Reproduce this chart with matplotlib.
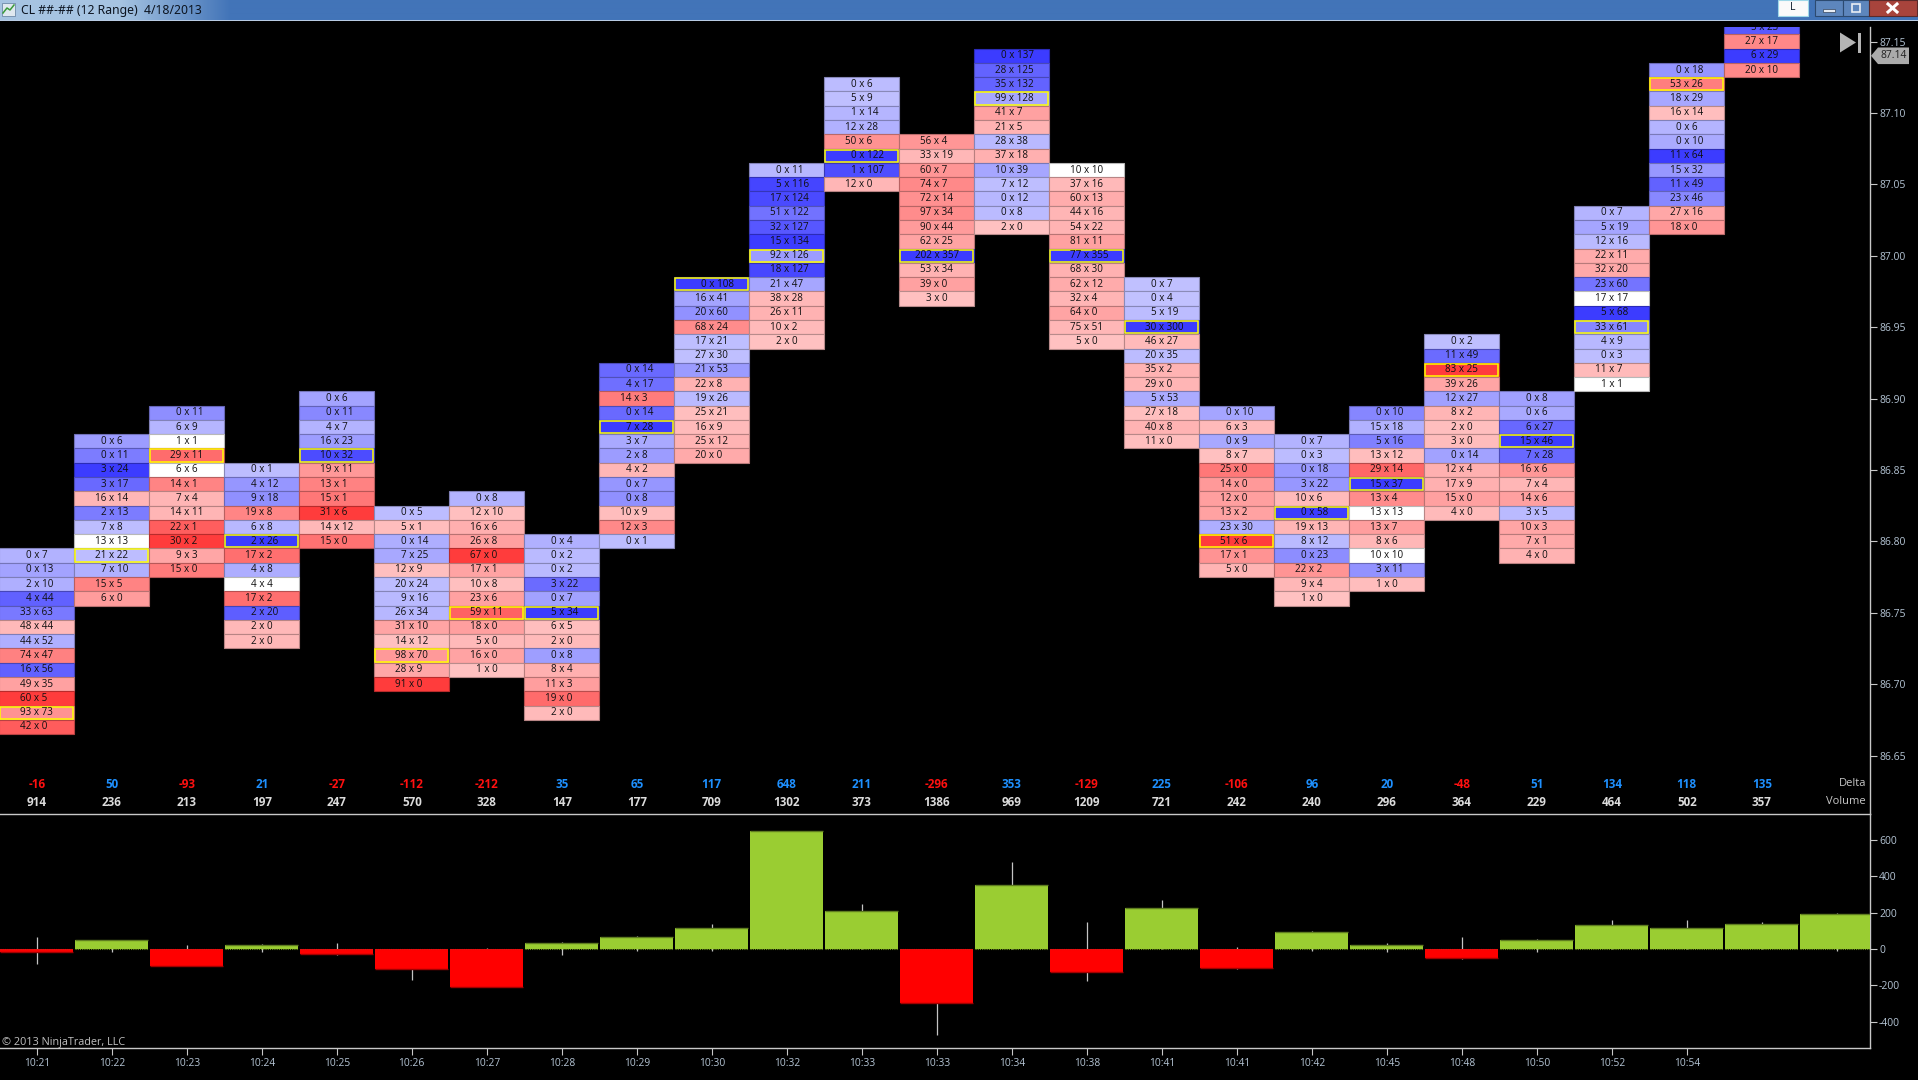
import numpy as np
import matplotlib
matplotlib.use("Agg")
import matplotlib.pyplot as plt
from matplotlib.patches import Rectangle, Polygon
from matplotlib.transforms import blended_transform_factory

W, H = 1918, 1080
FONT = "Open Sans"
plt.rcParams["font.family"] = [FONT, "DejaVu Sans"]

# ---- data -------------------------------------------------------------
times = ["10:21", "10:22", "10:23", "10:24", "10:25", "10:26", "10:27", "10:28",
         "10:29", "10:30", "10:32", "10:33", "10:33", "10:34", "10:38", "10:41",
         "10:41", "10:42", "10:45", "10:48", "10:50", "10:52", "10:54", ""]
top_price = [86.79, 86.87, 86.89, 86.85, 86.90, 86.82, 86.83, 86.80, 86.92, 86.98,
             87.06, 87.12, 87.08, 87.14, 87.06, 86.98, 86.89, 86.87, 86.89, 86.94,
             86.90, 87.03, 87.13, 87.16]
bid_ask = [
    ["0x7", "0x13", "2x10", "4x44", "33x63", "48x44", "44x52", "74x47", "16x56", "49x35", "60x5", "93x73", "42x0"],
    ["0x6", "0x11", "3x24", "3x17", "16x14", "2x13", "7x8", "13x13", "21x22", "7x10", "15x5", "6x0"],
    ["0x11", "6x9", "1x1", "29x11", "6x6", "14x1", "7x4", "14x11", "22x1", "30x2", "9x3", "15x0"],
    ["0x1", "4x12", "9x18", "19x8", "6x8", "2x26", "17x2", "4x8", "4x4", "17x2", "2x20", "2x0", "2x0"],
    ["0x6", "0x11", "4x7", "16x23", "10x32", "19x11", "13x1", "15x1", "31x6", "14x12", "15x0"],
    ["0x5", "5x1", "0x14", "7x25", "12x9", "20x24", "9x16", "26x34", "31x10", "14x12", "98x70", "28x9", "91x0"],
    ["0x8", "12x10", "16x6", "26x8", "67x0", "17x1", "10x8", "23x6", "59x11", "18x0", "5x0", "16x0", "1x0"],
    ["0x4", "0x2", "0x2", "3x22", "0x7", "5x34", "6x5", "2x0", "0x8", "8x4", "11x3", "19x0", "2x0"],
    ["0x14", "4x17", "14x3", "0x14", "7x28", "3x7", "2x8", "4x2", "0x7", "0x8", "10x9", "12x3", "0x1"],
    ["0x108", "16x41", "20x60", "68x24", "17x21", "27x30", "21x53", "22x8", "19x26", "25x21", "16x9", "25x12", "20x0"],
    ["0x11", "5x116", "17x124", "51x122", "32x127", "15x134", "92x126", "18x127", "21x47", "38x28", "26x11", "10x2", "2x0"],
    ["0x6", "5x9", "1x14", "12x28", "50x6", "0x122", "1x107", "12x0"],
    ["56x4", "33x19", "60x7", "74x7", "72x14", "97x34", "90x44", "62x25", "202x357", "53x34", "39x0", "3x0"],
    ["0x137", "28x125", "35x132", "99x128", "41x7", "21x5", "28x38", "37x18", "10x39", "7x12", "0x12", "0x8", "2x0"],
    ["10x10", "37x16", "60x13", "44x16", "54x22", "81x11", "77x355", "68x30", "62x12", "32x4", "64x0", "75x51", "5x0"],
    ["0x7", "0x4", "5x19", "30x300", "46x27", "20x35", "35x2", "29x0", "5x53", "27x18", "40x8", "11x0"],
    ["0x10", "6x3", "0x9", "8x7", "25x0", "14x0", "12x0", "13x2", "23x30", "51x6", "17x1", "5x0"],
    ["0x7", "0x3", "0x18", "3x22", "10x6", "0x58", "19x13", "8x12", "0x23", "22x2", "9x4", "1x0"],
    ["0x10", "15x18", "5x16", "13x12", "29x14", "15x37", "13x4", "13x13", "13x7", "8x6", "10x10", "3x11", "1x0"],
    ["0x2", "11x49", "83x25", "39x26", "12x27", "8x2", "2x0", "3x0", "0x14", "12x4", "17x9", "15x0", "4x0"],
    ["0x8", "0x6", "6x27", "15x46", "7x28", "16x6", "7x4", "14x6", "3x5", "10x3", "7x1", "4x0"],
    ["0x7", "5x19", "12x16", "22x11", "32x20", "23x60", "17x17", "5x68", "33x61", "4x9", "0x3", "11x7", "1x1"],
    ["0x18", "53x26", "18x29", "16x14", "0x6", "0x10", "11x64", "15x32", "11x49", "23x46", "27x16", "18x0"],
    ["5x23", "27x17", "6x29", "20x10"],
]
poc_row = [11, 8, 3, 5, 4, 10, 8, 5, 4, 0, 6, 5, 8, 3, 6, 3, 9, 5, 5, 2, 3, 8, 1, None]
delta_text = [-16, 50, -93, 21, -27, -112, -212, 35, 65, 117, 648, 211, -296, 353,
              -129, 225, -106, 96, 20, -48, 51, 134, 118, 135]
volume = [914, 236, 213, 197, 247, 570, 328, 147, 177, 709, 1302, 373, 1386, 969,
          1209, 721, 242, 240, 296, 364, 229, 464, 502, 357]
delta_bar = delta_text + [195]
delta_high = [66, 50, 22, 29, 35, 0, 7, 40, 73, 139, 648, 250, 0, 479, 149, 272, 11, 101, 33, 68, 57, 161, 161, 147, 198]
delta_low = [-84, -18, -95, -18, -31, -172, -212, -35, -9, -9, 0, 0, -472, 0, -178, 0, -110, -13, -18, -53, -18, 0, 0, 0, -13]
price_ticks = [86.65, 86.70, 86.75, 86.80, 86.85, 86.90, 86.95, 87.00, 87.05, 87.10, 87.15]
delta_ticks = [-400, -200, 0, 200, 400, 600]
last_price = 87.14

# ---- scales (pixel calibration of the panes) ---------------------------
X0, DX = 36.8, 75.0
AX_R = 1870
P_TOP, P_BOT, D_BOT = 27, 814, 1048
PX_PER_PRICE = 1428.0
price_at = lambda y: 87.15 - (y - 41.5) / PX_PER_PRICE
delta_at = lambda y: (949.0 - y) * 200 / 36.3
col_at = lambda x: (x - X0) / DX

TEXT_BG = "black"
fig = plt.figure(figsize=(W / 100, H / 100), dpi=100, facecolor=TEXT_BG)


def pane(y0, y1):
    ax = fig.add_axes([0, 1 - y1 / H, AX_R / W, (y1 - y0) / H], facecolor=TEXT_BG)
    ax.set_xlim(col_at(0), col_at(AX_R))
    for s in ("left", "top", "bottom"):
        ax.spines[s].set_visible(False)
    ax.spines["right"].set_color("#c8c8c8")
    ax.spines["right"].set_linewidth(1.0)
    ax.yaxis.tick_right()
    ax.tick_params(axis="y", colors="#c8c8c8", length=5, width=0.8, pad=1.5,
                   labelsize=7.5, labelcolor="#b4c4d4")
    ax.set_xticks([])
    return ax


# ---- price pane --------------------------------------------------------
ax = pane(P_TOP, P_BOT)
ax.set_ylim(price_at(P_BOT), price_at(P_TOP))
ax.set_yticks(price_ticks)
ax.set_yticklabels([f"{t:.2f}" for t in price_ticks])
TICK = 0.01
DIGIT = 5.6 / DX


def cell_colour(diff, max_diff):
    if diff == 0:
        return (1, 1, 1)
    v = (195 - 135 * abs(diff) / max_diff) / 255
    return (v, v, 1) if diff > 0 else (1, v, v)


for i, rows in enumerate(bid_ask):
    pairs = [tuple(int(n) for n in r.split("x")) for r in rows]
    diffs = [a - b for b, a in pairs]
    mx = max(abs(d) for d in diffs)
    cols = [cell_colour(d, mx) for d in diffs]
    prices = top_price[i] - TICK * np.arange(len(rows))
    ax.bar([i] * len(rows), [TICK] * len(rows), bottom=prices - TICK / 2, width=1.0,
           color=cols, edgecolor=[tuple(c * 0.72 for c in col) for col in cols],
           linewidth=0.8, zorder=2 + i * 0.01)
    for p, r, (b, a) in zip(prices, rows, pairs):
        shift = (len(str(a)) - len(str(b))) / 2 * DIGIT
        ax.text(i + shift, p, f"{b} x {a}", ha="center", va="center", fontsize=7.1,
                color="#101010", zorder=4, clip_on=True)
    if poc_row[i] is not None:
        ax.bar([i], [TICK * 0.86], bottom=prices[poc_row[i]] - TICK * 0.43, width=0.975,
               facecolor="none", edgecolor="#ffff00", linewidth=1.1, zorder=3)

trans = blended_transform_factory(ax.transData, fig.transFigure)
fy = lambda y: 1 - y / H
for i, (d, v) in enumerate(zip(delta_text, volume)):
    ax.text(i, fy(784), str(d), transform=trans, ha="center", va="center", fontsize=8.4,
            fontweight="bold", color="#1e90ff" if d >= 0 else "#ff1010", clip_on=False)
    ax.text(i, fy(802), str(v), transform=trans, ha="center", va="center", fontsize=8.4,
            fontweight="bold", color="#dcdcdc", clip_on=False)
fig.text(1866 / W, fy(784), "Delta", ha="right", va="center", fontsize=8, color="#c8c8c8")
fig.text(1866 / W, fy(802), "Volume", ha="right", va="center", fontsize=8, color="#c8c8c8")

# last-price flag and jump-to-end button
flag_y = 1 - (PX_PER_PRICE * (87.15 - last_price) + 41.5) / H
fig.add_artist(Polygon([(1871 / W, flag_y), (1878 / W, flag_y + 8.3 / H), (1909 / W, flag_y + 8.3 / H),
                        (1909 / W, flag_y - 8.3 / H), (1878 / W, flag_y - 8.3 / H)],
                       closed=True, transform=fig.transFigure, facecolor="#ababab", edgecolor="none", zorder=6))
fig.text(1893.5 / W, flag_y, f"{last_price:.2f}", ha="center", va="center", fontsize=7.5,
         color="#202020", zorder=7)
fig.add_artist(Polygon([(1840 / W, fy(32.5)), (1840 / W, fy(52.5)), (1856 / W, fy(42.5))], closed=True,
                       transform=fig.transFigure, facecolor="#b4b4b4", edgecolor="none"))
fig.add_artist(Rectangle((1858 / W, fy(52.5)), 3 / W, 20 / H, transform=fig.transFigure,
                         facecolor="#b4b4b4", edgecolor="none"))

# ---- delta pane --------------------------------------------------------
ax2 = pane(P_BOT, D_BOT)
ax2.set_ylim(delta_at(D_BOT), delta_at(P_BOT))
ax2.set_yticks(delta_ticks)
ax2.set_yticklabels([str(t) for t in delta_ticks])
ax2.spines["top"].set_visible(True)
ax2.spines["bottom"].set_visible(True)
for s in ("top", "bottom"):
    ax2.spines[s].set_color("#c8c8c8")
    ax2.spines[s].set_linewidth(1.0)
xs = np.arange(len(delta_bar))
ax2.vlines(xs, delta_low, delta_high, color="#c4c4c4", linewidth=0.9, zorder=2)
bar_cols = ["#9acd32" if d >= 0 else "#ff0000" for d in delta_bar]
ax2.bar(xs, delta_bar, width=0.973, color=bar_cols, edgecolor="none", zorder=3)
for x, d in zip(xs, delta_bar):
    ax2.hlines(d, x - 0.486, x + 0.486, color="#5f7d20" if d >= 0 else "#a00000",
               linewidth=1.0, zorder=4)
    ax2.hlines(0, x - 0.486, x + 0.486, color="#6f9420" if d >= 0 else "#d02020",
               linewidth=0.8, linestyles=(0, (1, 1)), zorder=4)
ax2.set_xticks(xs[:23])
ax2.set_xticklabels(times[:23])
ax2.tick_params(axis="x", colors="#c8c8c8", length=5, width=0.8, pad=2.2, labelsize=7.4,
                labelcolor="#b4c4d4")
fig.text(2 / W, fy(1042), "© 2013 NinjaTrader, LLC", ha="left", va="center", fontsize=7.8, color="#c0c0c0")

# ---- window title bar --------------------------------------------------
bar = fig.add_axes([0, 1 - 21 / H, 1, 21 / H], zorder=10)
bar.axis("off")
grad = np.zeros((1, W, 3))
t = np.clip((np.arange(W) - 120) / 110, 0, 1)
for c, (a, b) in enumerate([(166, 66), (196, 116), (226, 184)]):
    grad[0, :, c] = (a + (b - a) * t) / 255
bar.imshow(grad, extent=(0, W, 20, 0), aspect="auto", interpolation="bilinear")
bar.set_xlim(0, W)
bar.set_ylim(21, 0)
bar.add_patch(Rectangle((0, 19.5), W, 1.5, facecolor="#b9cbe4", edgecolor="none"))
bar.add_patch(Rectangle((2, 3), 13, 13, facecolor="#dfe8ef", edgecolor="#6e8aa8", linewidth=0.6))
bar.plot([3, 7, 10, 14], [13, 8, 10, 5], color="#3a9a3a", linewidth=1.1)
bar.text(21, 10.5, "CL ##-## (12 Range)  4/18/2013", ha="left", va="center", fontsize=8.8,
         color="#0c1420", family=["Noto Sans", "DejaVu Sans"])
bar.add_patch(Rectangle((1778, 0), 30, 16, facecolor="#fafafa", edgecolor="#9fd8e8", linewidth=0.8))
bar.text(1793, 8, "L", ha="center", va="center", fontsize=7.6, color="#102030")
bar.add_patch(Rectangle((1815, 0), 28, 16, facecolor="#5d86bd", edgecolor="#2c4a70", linewidth=0.8))
bar.add_patch(Rectangle((1843, 0), 26, 16, facecolor="#5d86bd", edgecolor="#2c4a70", linewidth=0.8))
bar.add_patch(Rectangle((1869, 0), 48, 16, facecolor="#a8443c", edgecolor="#5a2a2a", linewidth=0.8))
bar.add_patch(Rectangle((1823, 9), 12, 3, facecolor="#e8edf4", edgecolor="#33435a", linewidth=0.5))
bar.add_patch(Rectangle((1852, 4), 8, 8, facecolor="none", edgecolor="#e8edf4", linewidth=1.2))
bar.plot([1888, 1897], [4, 12], color="white", linewidth=2.2)
bar.plot([1888, 1897], [12, 4], color="white", linewidth=2.2)

fig.savefig("out.png", dpi=100, facecolor=TEXT_BG)
